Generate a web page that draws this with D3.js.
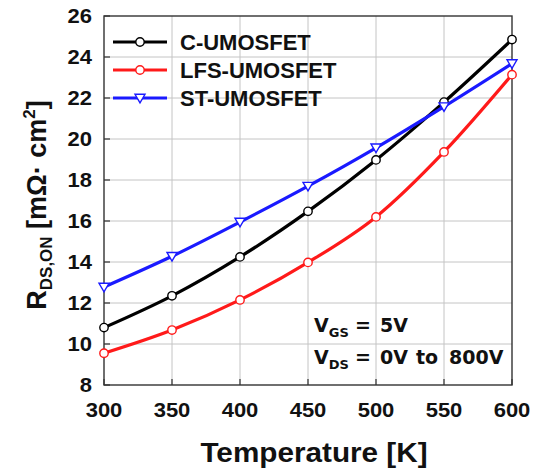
<!DOCTYPE html>
<html>
<head>
<meta charset="utf-8">
<script src="https://cdn.jsdelivr.net/npm/d3@7"></script>
<style>
  html, body { margin: 0; padding: 0; background: #fff; }
  svg { display: block; }
  text { font-family: "Liberation Sans", Arial, sans-serif; font-weight: bold; fill: #111; }
  text.note { font-family: "DejaVu Sans", sans-serif; font-weight: bold; }
</style>
</head>
<body>
<svg id="chart" width="540" height="472"></svg>
<script>
// Temperature sweep (K)
const temperatures = [300, 350, 400, 450, 500, 550, 600];
// Specific on-resistance (mΩ·cm²) per device
const cUmosfet   = [10.8, 12.35, 14.25, 16.47, 18.98, 21.8, 24.85];
const lfsUmosfet = [9.55, 10.68, 12.15, 13.98, 16.2, 19.37, 23.14];
const stUmosfet  = [12.78, 14.28, 15.95, 17.7, 19.57, 21.58, 23.68];
const seriesNames = ["C-UMOSFET", "LFS-UMOSFET", "ST-UMOSFET"];
const xTicks = [300, 350, 400, 450, 500, 550, 600];
const yTicks = [8, 10, 12, 14, 16, 18, 20, 22, 24, 26];

const series = [
  { name: seriesNames[0], values: cUmosfet,   color: "#000000", marker: "circle" },
  { name: seriesNames[1], values: lfsUmosfet, color: "#ff1a1a", marker: "circle" },
  { name: seriesNames[2], values: stUmosfet,  color: "#1a1aff", marker: "triangle" }
];

const svg = d3.select("#chart");
const m = { left: 104, right: 512, top: 16, bottom: 385 };
const stretch = 1.1; // slightly wide lettering for axis text

const x = d3.scaleLinear().domain([300, 600]).range([m.left, m.right]);
const y = d3.scaleLinear().domain([8, 26]).range([m.bottom, m.top]);

// grid
const grid = svg.append("g");
grid.selectAll("line.v").data(xTicks.slice(1, -1)).enter().append("line")
  .attr("x1", d => x(d)).attr("x2", d => x(d))
  .attr("y1", m.top).attr("y2", m.bottom)
  .attr("stroke", "#c4c4c4").attr("stroke-width", 1);
grid.selectAll("line.h").data(yTicks.slice(1, -1)).enter().append("line")
  .attr("x1", m.left).attr("x2", m.right)
  .attr("y1", d => y(d)).attr("y2", d => y(d))
  .attr("stroke", "#c4c4c4").attr("stroke-width", 1);

// inward tick marks
const tickLen = 6;
svg.append("g").selectAll("line").data(yTicks).enter().append("line")
  .attr("x1", m.left).attr("x2", m.left + tickLen)
  .attr("y1", d => y(d)).attr("y2", d => y(d))
  .attr("stroke", "#333").attr("stroke-width", 1.2);
svg.append("g").selectAll("line").data(xTicks).enter().append("line")
  .attr("x1", d => x(d)).attr("x2", d => x(d))
  .attr("y1", m.bottom).attr("y2", m.bottom - tickLen)
  .attr("stroke", "#333").attr("stroke-width", 1.2);

// frame
svg.append("rect")
  .attr("x", m.left).attr("y", m.top)
  .attr("width", m.right - m.left).attr("height", m.bottom - m.top)
  .attr("fill", "none").attr("stroke", "#333").attr("stroke-width", 1.4);

// tick labels
svg.append("g").selectAll("text").data(yTicks).enter().append("text")
  .attr("transform", d => `translate(${m.left - 12},${y(d) + 7}) scale(${stretch},1)`)
  .attr("text-anchor", "end").attr("font-size", 20)
  .text(d => d);
svg.append("g").selectAll("text").data(xTicks).enter().append("text")
  .attr("transform", d => `translate(${x(d)},${m.bottom + 32}) scale(${stretch},1)`)
  .attr("text-anchor", "middle").attr("font-size", 20)
  .text(d => d);

// axis titles
svg.append("text")
  .attr("transform", `translate(314,462) scale(${stretch},1)`)
  .attr("text-anchor", "middle").attr("font-size", 27)
  .text("Temperature [K]");

const yt = svg.append("text")
  .attr("transform", "translate(46,205) rotate(-90)")
  .attr("text-anchor", "middle").attr("font-size", 27);
yt.append("tspan").text("R");
yt.append("tspan").attr("font-size", 17).attr("dy", 6).text("DS,ON");
yt.append("tspan").attr("dy", -6).text(" [mΩ· cm");
yt.append("tspan").attr("font-size", 17).attr("dy", -11).text("2");
yt.append("tspan").attr("dy", 11).text("]");

// series lines and markers
const line = d3.line()
  .x((d, i) => x(temperatures[i]))
  .y(d => y(d))
  .curve(d3.curveMonotoneX);

const triangle = r => `M${-r},${-r * 0.75}L${r},${-r * 0.75}L0,${r * 0.95}Z`;

series.forEach(s => {
  svg.append("path")
    .attr("d", line(s.values))
    .attr("fill", "none").attr("stroke", s.color)
    .attr("stroke-width", 3.2).attr("stroke-linejoin", "round");
  const g = svg.append("g");
  if (s.marker === "circle") {
    g.selectAll("circle").data(s.values).enter().append("circle")
      .attr("cx", (d, i) => x(temperatures[i])).attr("cy", d => y(d))
      .attr("r", 4.2).attr("fill", "#fff")
      .attr("stroke", s.color).attr("stroke-width", 1.4);
  } else {
    g.selectAll("path").data(s.values).enter().append("path")
      .attr("transform", (d, i) => `translate(${x(temperatures[i])},${y(d)})`)
      .attr("d", triangle(5))
      .attr("fill", "#fff").attr("stroke", s.color).attr("stroke-width", 1.4);
  }
});

// legend
const legendY = [42, 70, 98];
series.forEach((s, i) => {
  const ly = legendY[i];
  svg.append("line")
    .attr("x1", 113).attr("x2", 167).attr("y1", ly).attr("y2", ly)
    .attr("stroke", s.color).attr("stroke-width", 3.2);
  if (s.marker === "circle") {
    svg.append("circle").attr("cx", 140).attr("cy", ly).attr("r", 4.2)
      .attr("fill", "#fff").attr("stroke", s.color).attr("stroke-width", 1.4);
  } else {
    svg.append("path").attr("transform", `translate(140,${ly})`)
      .attr("d", triangle(5))
      .attr("fill", "#fff").attr("stroke", s.color).attr("stroke-width", 1.4);
  }
  svg.append("text")
    .attr("x", 180).attr("y", ly + 8)
    .attr("font-size", 22)
    .text(s.name);
});

// bias conditions
function biasRow(yb, sub, parts) {
  const t = svg.append("text").attr("class", "note").attr("y", yb).attr("font-size", 19);
  t.append("tspan").attr("x", 314).text("V");
  t.append("tspan").attr("font-size", 13).attr("dy", 5).text(sub);
  t.append("tspan").attr("x", 355).attr("dy", -5).text("=");
  parts.forEach(p => t.append("tspan").attr("x", p[0]).text(p[1]));
}
biasRow(332, "GS", [[380, "5V"]]);
biasRow(364, "DS", [[380, "0V"], [416, "to"], [449, "800V"]]);
</script>
</body>
</html>
